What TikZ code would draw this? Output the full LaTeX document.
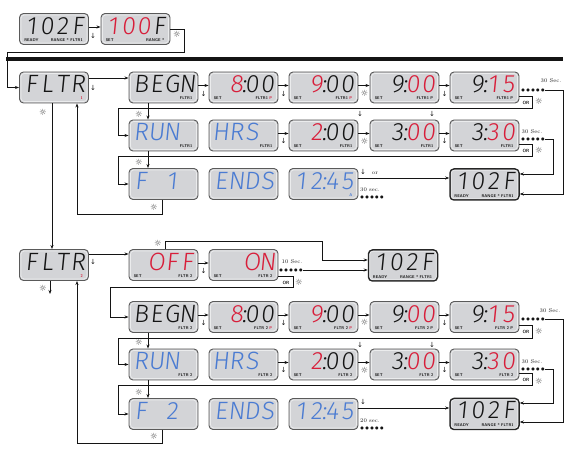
\documentclass[tikz,border=0pt]{standalone}
\usepackage{fontspec}
\IfFontExistsTF{Fira Sans Light}%
 {\newfontfamily\lcdf{Fira Sans Light}[FakeSlant=0.1]}%
 {\IfFontExistsTF{FiraSans-Light.otf}%
   {\newfontfamily\lcdf{FiraSans-Light.otf}[FakeSlant=0.1]}%
   {\newfontfamily\lcdf{Fira Sans}[FakeSlant=0.1]}}
\newfontfamily\djf{DejaVu Sans}
\usetikzlibrary{calc,arrows.meta}
\definecolor{lred}{HTML}{D81E3A}
\definecolor{lblue}{HTML}{4A7BD2}
\definecolor{lfill}{HTML}{D3D4D7}
\definecolor{lline}{HTML}{5A5A5A}
\definecolor{link}{HTML}{141414}
\newcommand\Cc[1]{\makebox[15.5pt][c]{#1}}
\newcommand\Kk{\makebox[0pt][c]{:}}
\newcommand\Rd[1]{\textcolor{lred}{#1}}
\newcommand\Bl[1]{\textcolor{lblue}{#1}}
\newcommand\Dots{●\hspace{1.4pt}●\hspace{1.4pt}●\hspace{1.4pt}●\hspace{1.4pt}●}
\newcommand\lcd[7][lcdbox]{%
  \node[#1] (#2) at (#3,#4) {};
  \draw[ring] ($(#2.south west)+(2,-2)$) rectangle ($(#2.north east)+(-2,2)$);
  \node[lcdtext,anchor=base east] (#2t) at ($(#2.north east)+(-3,21)$) {#5};
  \node[lab,anchor=base west] (#2l) at ($(#2.south west)+(5,-3.5)$) {#6};
  \node[lab,anchor=base east] (#2r) at ($(#2.south east)+(-6,-3.5)$) {#7};
}
\tikzset{
 lcdbox/.style={draw=lline, fill=lfill, line width=0.9pt, rounded corners=4pt, minimum width=69pt, minimum height=31pt, inner sep=0pt},
 readybox/.style={lcdbox, draw=black!85, line width=1.5pt},
 ring/.style={draw=white!55!lfill, line width=0.7pt, rounded corners=3pt},
 lcdtext/.style={font=\lcdf\fontsize{25}{25}\selectfont, text=link, inner sep=0pt, text height=17pt, text depth=0pt},
 lab/.style={font=\sffamily\bfseries\fontsize{4}{4}\selectfont, text=link, inner sep=0pt},
 ortext/.style={font=\sffamily\bfseries\fontsize{4.5}{4.5}\selectfont, text=link, inner sep=0pt},
 btn/.style={font=\djf\fontsize{7}{7}\selectfont, inner sep=0pt, text=link},
 lit/.style={font=\djf\fontsize{8.5}{8.5}\selectfont, inner sep=0pt, text=black!75},
 note/.style={font=\fontsize{5.5}{5.5}\selectfont, inner sep=0pt, text=link},
 dots/.style={font=\djf\fontsize{4}{4}\selectfont, inner sep=0pt, text=link},
 conn/.style={draw=link, line width=0.75pt},
 arr/.style={conn, -{Stealth[length=4pt,width=3pt]}},
}
\begin{document}
\begin{tikzpicture}[x=1pt,y=-1pt]
\useasboundingbox (0,0) rectangle (582,462);
% ---------- top row
\lcd{t1}{54}{29}{\Cc{1}\Cc{0}\Cc{2}\Cc{F}}{READY}{RANGE * FLTR1}
\lcd{t2}{135.5}{29}{\Rd{\Cc{1}\Cc{0}\Cc{0}}\Cc{F}}{SET}{RANGE *}
\node[btn] (k1) at (93,36) {↓};
\node[lit] (s1) at (177,34) {☼};
\draw[line width=3.6pt, draw=link] (6,59) -- (563,59);
% ---------- row 1
\lcd{fa}{54}{87.5}{\Cc{F}\Cc{L}\Cc{T}\Cc{R}}{}{\Rd{1}\hspace{6pt}}
\lcd{ba}{163.5}{87.5}{\Cc{B}\Cc{E}\Cc{G}\Cc{N}}{}{FLTR1}
\lcd{ea}{243.5}{87.5}{\Cc{}\Rd{\Cc{8}}\Kk\Cc{0}\Cc{0}}{SET}{FLTR1 \Rd{P}}
\lcd{na}{323.5}{87.5}{\Cc{}\Rd{\Cc{9}}\Kk\Cc{0}\Cc{0}}{SET}{FLTR1 \Rd{P}}
\lcd{nb}{404.5}{87.5}{\Cc{}\Cc{9}\Kk\Rd{\Cc{0}\Cc{0}}}{SET}{FLTR1 P}
\lcd{qa}{484.5}{87.5}{\Cc{}\Cc{9}\Kk\Rd{\Cc{1}\Cc{5}}}{SET}{FLTR1 P}
\node[btn] (k2) at (93,88) {↓};
\node[btn] (k3) at (203.5,94) {↓};
\node[btn] (k4) at (283.5,94) {↓};
\node[lit] (s2) at (364.5,93) {☼};
\node[btn] (k5) at (444.5,94) {↓};
\node[note] (n1) at (551,81) {30 Sec.};
\node[dots] (d1) at (533,90) {\Dots};
\node[ortext] (o1) at (526,102.5) {OR};
\node[lit] (s3) at (539,101) {☼};
\node[lit] (s4) at (139,114) {☼};
\node[lit] (s5) at (43,112) {☼};
% ---------- row 2
\lcd{ra}{163.5}{135.5}{\Bl{\Cc{R}\Cc{U}\Cc{N}}\Cc{}}{}{FLTR1}
\lcd{ha}{243.5}{135.5}{\Bl{\Cc{H}\Cc{R}\Cc{S}}\Cc{}}{}{FLTR1}
\lcd{wa}{323.5}{135.5}{\Cc{}\Rd{\Cc{2}}\Kk\Cc{0}\Cc{0}}{SET}{FLTR1}
\lcd{xa}{404.5}{135.5}{\Cc{}\Cc{3}\Kk\Rd{\Cc{0}\Cc{0}}}{SET}{FLTR1}
\lcd{ya}{484.5}{135.5}{\Cc{}\Cc{3}\Kk\Rd{\Cc{3}\Cc{0}}}{SET}{FLTR1}
\node[btn] (k6) at (283.5,141) {↓};
\node[lit] (s6) at (364.5,141) {☼};
\node[btn] (k7) at (444.5,141) {↓};
\node[btn] (k8) at (360,114) {↓};
\node[btn] (k9) at (432,114) {↓};
\node[note] (n2) at (532,132) {30 Sec.};
\node[dots] (d2) at (533,139) {\Dots};
\node[ortext] (o2) at (526,150.5) {OR};
\node[lit] (s7) at (539,150) {☼};
\node[lit] (s8) at (139,162) {☼};
% ---------- row 3
\lcd{fo}{163.5}{184}{\Bl{\Cc{F}\Cc{}\Cc{1}\Cc{}}}{}{}
\lcd{en}{243.5}{184}{\Bl{\Cc{E}\Cc{N}\Cc{D}\Cc{S}}}{}{}
\lcd{ta}{323.5}{184}{\Bl{\Cc{1}\Cc{2}\Kk\Cc{4}\Cc{5}}}{}{\Bl{A}}
\lcd[readybox]{rdA}{484.5}{184.5}{\Cc{1}\Cc{0}\Cc{2}\Cc{F}}{READY}{RANGE * FLTR1}
\node[btn] (k10) at (363,172) {↓};
\node[note] (n3) at (375,173) {or};
\node[note] (n4) at (370,190) {30 sec.};
\node[dots] (d3) at (372,197) {\Dots};
\node[lit] (s9) at (154,207) {☼};
% ---------- row 4
\lcd{fb}{54}{265}{\Cc{F}\Cc{L}\Cc{T}\Cc{R}}{}{\Rd{2}\hspace{6pt}}
\lcd{of}{163.5}{265}{\Rd{\Cc{}\Cc{O}\Cc{F}\Cc{F}}}{SET}{FLTR 2}
\lcd{on}{243.5}{265}{\Rd{\Cc{}\Cc{}\Cc{O}\Cc{N}}}{SET}{FLTR 2}
\lcd[readybox]{rdB}{403}{265.5}{\Cc{1}\Cc{0}\Cc{2}\Cc{F}}{READY}{RANGE * FLTR1}
\node[btn] (k11) at (93,262) {↓};
\node[btn] (k12) at (203.5,271) {↓};
\node[lit] (s10) at (158,243) {☼};
\node[note] (n5) at (292,262) {10 Sec.};
\node[dots] (d4) at (291,270) {\Dots};
\node[ortext] (o3) at (286,282.5) {OR};
\node[lit] (s11) at (299,282) {☼};
\node[lit] (s12) at (43,288) {☼};
\coordinate (fbd) at (50,294);
% ---------- row 5
\lcd{bb}{163.5}{317}{\Cc{B}\Cc{E}\Cc{G}\Cc{N}}{}{FLTR 2}
\lcd{eb}{243.5}{317}{\Cc{}\Rd{\Cc{8}}\Kk\Cc{0}\Cc{0}}{SET}{FLTR 2 \Rd{P}}
\lcd{nc}{323.5}{317}{\Cc{}\Rd{\Cc{9}}\Kk\Cc{0}\Cc{0}}{SET}{FLTR 2 \Rd{P}}
\lcd{nd}{404.5}{317}{\Cc{}\Cc{9}\Kk\Rd{\Cc{0}\Cc{0}}}{SET}{FLTR 2 P}
\lcd{qb}{484.5}{317}{\Cc{}\Cc{9}\Kk\Rd{\Cc{1}\Cc{5}}}{SET}{FLTR 2 P}
\node[btn] (k13) at (203.5,323) {↓};
\node[btn] (k14) at (283.5,323) {↓};
\node[lit] (s13) at (364.5,322) {☼};
\node[btn] (k15) at (444.5,323) {↓};
\node[note] (n6) at (550,311) {30 Sec.};
\node[dots] (d5) at (533,319) {\Dots};
\node[ortext] (o4) at (526,332) {OR};
\node[lit] (s14) at (539,331) {☼};
\node[lit] (s15) at (139,342) {☼};
% ---------- row 6
\lcd{rb}{163.5}{364.5}{\Bl{\Cc{R}\Cc{U}\Cc{N}}\Cc{}}{}{FLTR 2}
\lcd{hb}{243.5}{364.5}{\Bl{\Cc{H}\Cc{R}\Cc{S}}\Cc{}}{}{FLTR 2}
\lcd{wb}{323.5}{364.5}{\Cc{}\Rd{\Cc{2}}\Kk\Cc{0}\Cc{0}}{SET}{FLTR 2}
\lcd{xb}{404.5}{364.5}{\Cc{}\Cc{3}\Kk\Rd{\Cc{0}\Cc{0}}}{SET}{FLTR 2}
\lcd{yb}{484.5}{364.5}{\Cc{}\Cc{3}\Kk\Rd{\Cc{3}\Cc{0}}}{SET}{FLTR 2}
\node[btn] (k16) at (283.5,370) {↓};
\node[lit] (s16) at (364.5,370) {☼};
\node[btn] (k17) at (444.5,370) {↓};
\node[btn] (k18) at (360,345) {↓};
\node[btn] (k19) at (432,345) {↓};
\node[note] (n7) at (532,362) {30 Sec.};
\node[dots] (d6) at (533,369) {\Dots};
\node[ortext] (o5) at (526,379.5) {OR};
\node[lit] (s17) at (539,381) {☼};
\node[lit] (s18) at (139,392) {☼};
% ---------- row 7
\lcd{fc}{163.5}{414}{\Bl{\Cc{F}\Cc{}\Cc{2}\Cc{}}}{}{}
\lcd{eo}{243.5}{414}{\Bl{\Cc{E}\Cc{N}\Cc{D}\Cc{S}}}{}{}
\lcd{tb}{323.5}{414}{\Bl{\Cc{1}\Cc{2}\Kk\Cc{4}\Cc{5}}}{}{}
\lcd[readybox]{rdC}{484.5}{414}{\Cc{1}\Cc{0}\Cc{2}\Cc{F}}{READY}{RANGE * FLTR1}
\node[btn] (k20) at (363,402) {↓};
\node[note] (n8) at (370,421) {20 sec.};
\node[dots] (d7) at (372,428) {\Dots};
\node[lit] (s19) at (154,436) {☼};
% ---------- connectors
\draw[arr] ([yshift=2pt]t1.east) -- ([yshift=2pt]t2.west);
\draw[arr] (t2.east) -- (184,29) |- (7,52) |- (fa.west);
% row 1
\draw[arr] ([yshift=9.5pt]fa.east) -- ([yshift=9.5pt]ba.west);
\draw[arr] ([yshift=2pt]ba.east) -- ([yshift=2pt]ea.west);
\draw[arr] ([yshift=2pt]ea.east) -- ([yshift=2pt]na.west);
\draw[arr] ([yshift=2pt]na.east) -- ([yshift=2pt]nb.west);
\draw[arr] ([yshift=2pt]nb.east) -- ([yshift=2pt]qa.west);
\draw[arr] (d1.east) -- (563,90) |- ([yshift=-9.5pt]rdA.east);
\draw[arr] ([yshift=-8.5pt]qa.east) -- (532,96) |- (118,108.5) |- (ra.west);
\draw[arr] ([xshift=-15.5pt]ba.south) -- ([xshift=-15.5pt]ra.north);
\draw[arr] ([xshift=-2pt]fa.south) -- ([xshift=-2pt]fb.north);
% row 2
\draw[arr] ([yshift=2pt]ha.east) -- ([yshift=2pt]wa.west);
\draw[arr] ([yshift=2pt]wa.east) -- ([yshift=2pt]xa.west);
\draw[arr] ([yshift=2pt]xa.east) -- ([yshift=2pt]ya.west);
\draw[arr] (d2.east) -- (553,139) |- ([yshift=10.5pt]rdA.east);
\draw[arr] ([yshift=-8.5pt]ya.east) -- (532,144) |- (118,156.5) |- (fo.west);
\draw[arr] ([xshift=-15.5pt]ra.south) -- ([xshift=-15.5pt]fo.north);
% row 3
\draw[arr] ([yshift=6pt]ta.east) -- ([yshift=6.5pt]rdA.west);
\draw[arr] ([xshift=-1.5pt]fo.south) |- (77,214) -- ([xshift=23pt]fa.south);
% row 4
\draw[arr] ([yshift=11pt]fb.east) -- ([yshift=11pt]of.west);
\draw[arr] ([yshift=2pt]of.east) -- ([yshift=2pt]on.west);
\draw[arr] ([xshift=1.5pt]of.north) |- (322,241) |- ([yshift=5.5pt]rdB.west);
\draw[arr] (d4.east) -- (d4.east -| rdB.west);
\draw[arr] ([yshift=-11pt]on.east) -- (293,276) |- (110,287.5) |- (bb.west);
\draw[arr] ([xshift=-4pt]fb.south) -- (fbd);
% row 5
\draw[arr] ([yshift=2pt]bb.east) -- ([yshift=2pt]eb.west);
\draw[arr] ([yshift=2pt]eb.east) -- ([yshift=2pt]nc.west);
\draw[arr] ([yshift=2pt]nc.east) -- ([yshift=2pt]nd.west);
\draw[arr] ([yshift=2pt]nd.east) -- ([yshift=2pt]qb.west);
\draw[arr] (d5.east) -- (563,319) |- ([yshift=-8pt]rdC.east);
\draw[arr] ([yshift=-8.5pt]qb.east) -- (532,325.5) |- (118,338.5) |- (rb.west);
\draw[arr] ([xshift=-15.5pt]bb.south) -- ([xshift=-15.5pt]rb.north);
% row 6
\draw[arr] ([yshift=2pt]hb.east) -- ([yshift=2pt]wb.west);
\draw[arr] ([yshift=2pt]wb.east) -- ([yshift=2pt]xb.west);
\draw[arr] ([yshift=2pt]xb.east) -- ([yshift=2pt]yb.west);
\draw[arr] (d6.east) -- (553,369) |- ([yshift=11pt]rdC.east);
\draw[arr] ([yshift=-8.5pt]yb.east) -- (532,373) |- (118,385.5) |- (fc.west);
\draw[arr] ([xshift=-15.5pt]rb.south) -- ([xshift=-15.5pt]fc.north);
% row 7
\draw[arr] ([yshift=6pt]tb.east) -- ([yshift=6pt]rdC.west);
\draw[arr] ([xshift=-1.5pt]fc.south) |- (77,443) -- ([xshift=23pt]fb.south);
\end{tikzpicture}
\end{document}
